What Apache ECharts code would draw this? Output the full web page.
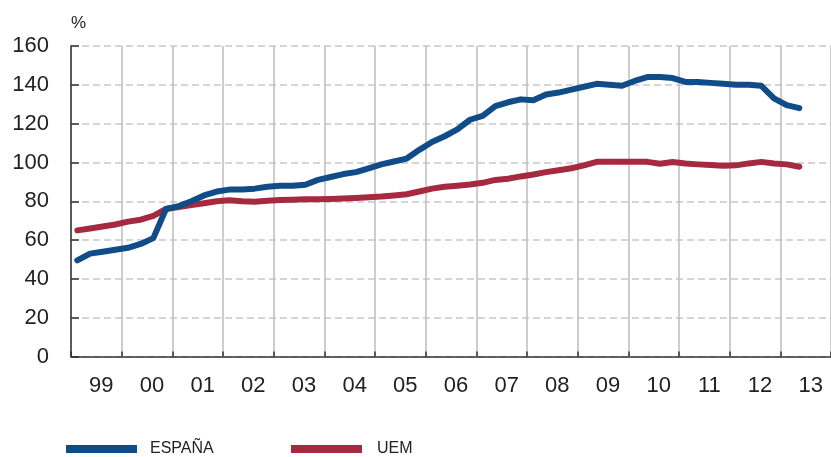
<!DOCTYPE html>
<html>
<head>
<meta charset="utf-8">
<script src="https://cdn.jsdelivr.net/npm/echarts@6/dist/echarts.min.js"></script>
<style>
  html, body { margin: 0; padding: 0; background: #fff; }
  #chart { width: 831px; height: 457px; }
</style>
</head>
<body>
<div id="chart"></div>
<script>
// Year labels shown under each year band
var yearLabels = ['99', '00', '01', '02', '03', '04', '05', '06', '07', '08', '09', '10', '11', '12', '13'];
var firstYear = 1999;

// Quarterly values, % (1999 Q1 to 2013 Q2)
var spainValues = [
  49.5, 53, 54, 55,
  56, 58, 61, 76,
  77.5, 80, 83, 85,
  86, 86, 86.5, 87.5,
  88, 88, 88.5, 91,
  92.5, 94, 95, 97,
  99, 100.5, 102, 106.5,
  110.5, 113.5, 117, 122,
  124, 129, 131, 132.5,
  132, 135, 136, 137.5,
  139, 140.5, 140, 139.5,
  142, 144, 144, 143.5,
  141.5, 141.5, 141, 140.5,
  140, 140, 139.5, 133,
  129.5, 128
];
var uemValues = [
  65, 66, 67, 68,
  69.5, 70.5, 72.5, 76,
  77, 78, 79, 80,
  80.5, 80, 79.8, 80.3,
  80.6, 80.8, 81, 81,
  81.2, 81.4, 81.7, 82,
  82.4, 83, 83.6, 85,
  86.5, 87.5, 88, 88.6,
  89.5, 91, 91.6, 92.8,
  93.8, 95, 96, 97,
  98.5, 100.3, 100.4, 100.4,
  100.4, 100.3, 99.3, 100.2,
  99.4, 99, 98.7, 98.3,
  98.5, 99.5, 100.3, 99.5,
  99, 97.8
];

var seriesNames = ['ESPAÑA', 'UEM'];
var colors = ['#0f4c88', '#a52a40'];

// Each quarter is placed at the middle of its quarter on a continuous year axis
function toPoints(values) {
  return values.map(function (v, i) {
    return [firstYear + (i + 0.5) / 4, v];
  });
}

var lastYear = firstYear + yearLabels.length;
var font = 'Liberation Sans, Arial, sans-serif';

var chart = echarts.init(document.getElementById('chart'), null, { renderer: 'canvas' });

chart.setOption({
  animation: false,
  backgroundColor: '#ffffff',
  textStyle: { fontFamily: font },
  grid: { left: 71, right: -4, top: 46, bottom: 100.5, containLabel: false },
  legend: [
    {
      data: [seriesNames[0]], left: 61, top: 436,
      icon: 'rect', itemWidth: 71, itemHeight: 8, itemGap: 0,
      textStyle: { fontSize: 16, color: '#222', fontFamily: font, padding: [6, 0, 0, 8] }
    },
    {
      data: [seriesNames[1]], left: 286, top: 436,
      icon: 'rect', itemWidth: 71, itemHeight: 8, itemGap: 0,
      textStyle: { fontSize: 16, color: '#222', fontFamily: font, padding: [6, 0, 0, 10] }
    }
  ],
  xAxis: [
    {
      type: 'value', min: firstYear, max: lastYear, interval: 1,
      axisLine: { show: true, onZero: false, lineStyle: { color: '#333', width: 1.5 } },
      axisTick: { show: true, inside: true, length: 5, lineStyle: { color: '#333', width: 1.5 } },
      axisLabel: { show: false },
      splitLine: { show: true, lineStyle: { color: '#bcbcbc', width: 1.5 } }
    },
    {
      type: 'category', position: 'bottom', boundaryGap: true,
      data: yearLabels,
      axisLine: { show: false }, axisTick: { show: false }, splitLine: { show: false },
      axisLabel: { fontSize: 22, color: '#222', margin: 18, padding: [0, 0, 0, 10], fontFamily: font }
    }
  ],
  yAxis: {
    type: 'value', min: 0, max: 160, interval: 20,
    name: '%', nameLocation: 'end', nameGap: 14,
    nameTextStyle: { fontSize: 17, color: '#222', align: 'left', fontFamily: font },
    axisLine: { show: true, lineStyle: { color: '#333', width: 1.5 } },
    axisTick: { show: true, inside: true, length: 8, lineStyle: { color: '#333', width: 1.5 } },
    axisLabel: { fontSize: 22, color: '#222', margin: 22, fontFamily: font },
    splitLine: { show: true, lineStyle: { color: '#c8c8c8', width: 1.5, type: [7, 4] } }
  },
  series: [
    {
      name: seriesNames[0], type: 'line', xAxisIndex: 0,
      data: toPoints(spainValues), showSymbol: false, smooth: false,
      lineStyle: { color: colors[0], width: 6, cap: 'round', join: 'round' },
      itemStyle: { color: colors[0] }, z: 3
    },
    {
      name: seriesNames[1], type: 'line', xAxisIndex: 0,
      data: toPoints(uemValues), showSymbol: false, smooth: false,
      lineStyle: { color: colors[1], width: 6, cap: 'round', join: 'round' },
      itemStyle: { color: colors[1] }, z: 2
    }
  ]
});
</script>
</body>
</html>
